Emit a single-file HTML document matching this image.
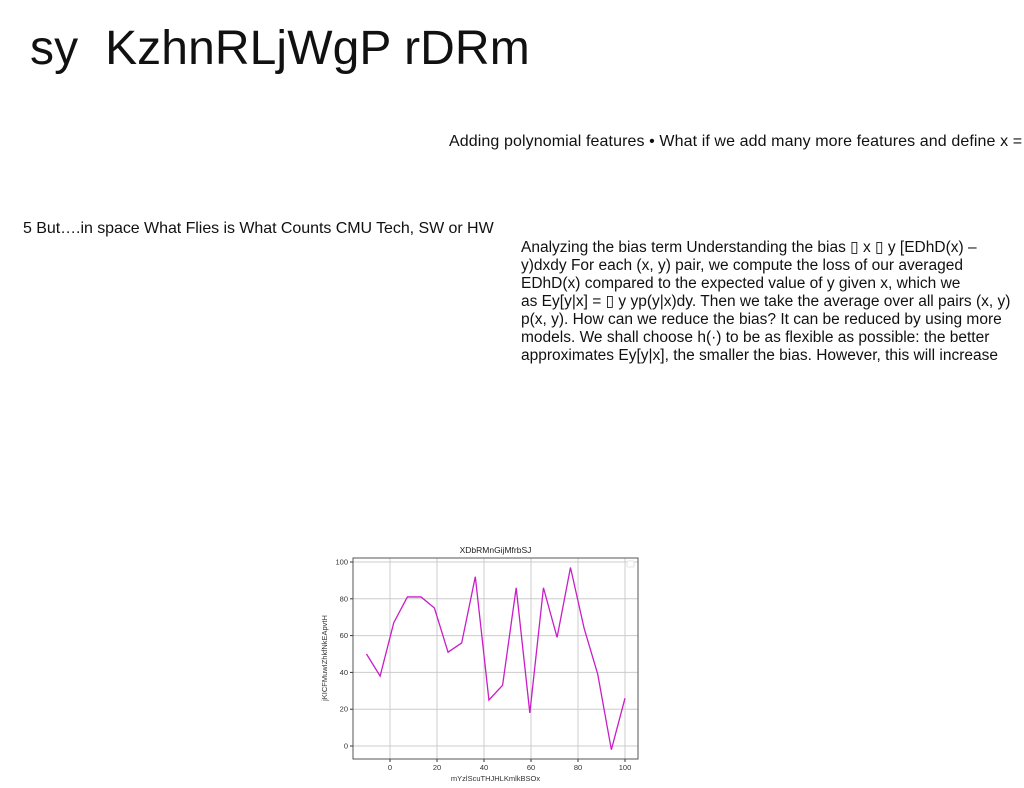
<!DOCTYPE html>
<html><head><meta charset="utf-8"><style>
body{margin:0;width:1024px;height:788px;background:#fff;position:relative;overflow:hidden;font-family:"Liberation Sans",sans-serif;}
.t{position:absolute;white-space:nowrap;color:#111;}
.b{font-size:15.5px;line-height:18px;letter-spacing:0px;}
</style></head><body>
<div class="t" style="left:30px;top:21px;font-size:48px;letter-spacing:0.1px;">sy&nbsp; KzhnRLjWgP rDRm</div>
<div class="t" style="left:449px;top:133px;font-size:16px;line-height:18px;letter-spacing:0.1px;">Adding polynomial features • What if we add many more features and define x =</div>
<div class="t" style="left:23px;top:220px;font-size:16px;letter-spacing:-0.05px;">5 But….in space What Flies is What Counts CMU Tech, SW or HW</div>
<div class="t b" style="left:521px;top:239px;">
Analyzing the bias term Understanding the bias ▯ x ▯ y [EDhD(x) –<br>
y)dxdy For each (x, y) pair, we compute the loss of our averaged<br>
EDhD(x) compared to the expected value of y given x, which we<br>
as Ey[y|x] = ▯ y yp(y|x)dy. Then we take the average over all pairs (x, y)<br>
p(x, y). How can we reduce the bias? It can be reduced by using more<br>
models. We shall choose h(·) to be as flexible as possible: the better<br>
approximates Ey[y|x], the smaller the bias. However, this will increase</div>
<svg id="chart" style="position:absolute;left:0;top:0" width="1024" height="788" font-family="Liberation Sans, sans-serif"></svg>
<script>
const xs=[-10,-4.2,1.6,7.4,13.2,18.9,24.7,30.5,36.3,42.1,47.9,53.7,59.5,65.3,71.1,76.8,82.6,88.4,94.2,100];
const ys=[50,38,67,81,81,75,51,56,92,25,33,86,18,86,59,97,64,39,-2,26];
const xTicks=[0,20,40,60,80,100];
const yTicks=[0,20,40,60,80,100];
const svg=document.getElementById('chart');
const NS='http://www.w3.org/2000/svg';
const L=353,R=638,T=558,B=759;
const sx=v=>390+v*2.35, sy=v=>746-v*1.84;
function mk(tag,a){const e=document.createElementNS(NS,tag);for(const k in a)e.setAttribute(k,a[k]);svg.appendChild(e);return e;}
xTicks.forEach(v=>{
 const g=mk('line',{x1:sx(v),x2:sx(v),y1:T,y2:B,stroke:'#ccc','stroke-width':1});
 
 
 mk('line',{x1:sx(v),x2:sx(v),y1:B,y2:B+3,stroke:'#333'});
 const t=mk('text',{x:sx(v),y:B+11,'font-size':7.5,'text-anchor':'middle',fill:'#333'});t.textContent=v;
 
 
});
yTicks.forEach(v=>{
 const g=mk('line',{x1:L,x2:R,y1:sy(v),y2:sy(v),stroke:'#ccc','stroke-width':1});
 
 
 mk('line',{x1:L-3,x2:L,y1:sy(v),y2:sy(v),stroke:'#333'});
 const t=mk('text',{x:L-5,y:sy(v)+2.5,'font-size':7.5,'text-anchor':'end',fill:'#333'});t.textContent=v;
 
 
});
const fr=mk('rect',{x:L,y:T,width:R-L,height:B-T,fill:'none',stroke:'#555','stroke-width':1});


const lg=mk('rect',{x:627,y:561,width:7,height:6,fill:'#fff',stroke:'#ddd','stroke-width':0.8,rx:1});


const pl=mk('polyline',{points:xs.map((x,i)=>sx(x)+','+sy(ys[i])).join(' '),fill:'none',stroke:'#c81ec8','stroke-width':1.3});


const ti=mk('text',{x:(L+R)/2,y:553,'font-size':8.5,'text-anchor':'middle',fill:'#222'});ti.textContent='XDbRMnGijMfrbSJ';


const xl=mk('text',{x:(L+R)/2,y:781,'font-size':7.5,'text-anchor':'middle',fill:'#333'});xl.textContent='mYzlScuTHJHLKmlkBSOx';


const yl=mk('text',{x:0,y:0,'font-size':7.5,'text-anchor':'middle',fill:'#333',transform:'translate(327,658) rotate(-90)'});yl.textContent='jKICFMuwIZhkfNkEApvtH';


</script>
</body></html>
